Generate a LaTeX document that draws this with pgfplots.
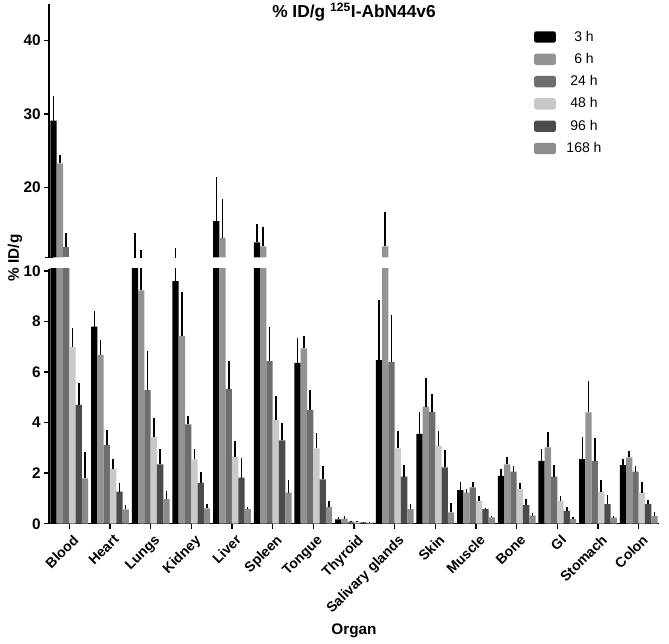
\documentclass[border=0pt]{standalone}
\usepackage{pgfplots}
\pgfplotsset{compat=1.18}
\usepackage{pgfplotstable}
\usepackage{fontspec}
\setmainfont{Liberation Sans}

\definecolor{cA}{HTML}{000000}
\definecolor{cB}{HTML}{939393}
\definecolor{cC}{HTML}{6E6E6E}
\definecolor{cD}{HTML}{C9C9C9}
\definecolor{cE}{HTML}{4B4B4B}
\definecolor{cF}{HTML}{8C8C8C}

% 3 h
\pgfplotstableread{
x y e
0 29.1 3.3
1 7.80 0.63
2 10.3 3.4
3 9.60 2.1
4 15.4 6.0
5 12.5 2.5
6 6.37 1.0
7 0.17 0.10
8 6.48 2.37
9 3.56 0.87
10 1.33 0.31
11 1.89 0.27
12 2.49 0.45
13 2.56 0.88
14 2.32 0.23
}\tA
% 6 h
\pgfplotstableread{
x y e
0 23.27 1.1
1 6.68 0.59
2 9.24 2.2
3 7.43 1.75
4 13.1 5.3
5 11.95 2.6
6 6.94 0.5
7 0.20 0.10
8 11.95 4.7
9 4.63 1.12
10 1.23 0.13
11 2.35 0.30
12 3.02 0.62
13 4.41 1.24
14 2.63 0.25
}\tB
% 24 h
\pgfplotstableread{
x y e
0 11.81 1.9
1 3.11 0.60
2 5.29 1.54
3 3.93 0.34
4 5.34 1.10
5 6.44 1.33
6 4.50 0.79
7 0.08 0.04
8 6.41 1.84
9 4.43 0.69
10 1.44 0.22
11 2.06 0.22
12 1.86 0.46
13 2.48 0.90
14 2.06 0.22
}\tC
% 48 h
\pgfplotstableread{
x y e
0 7.00 0.76
1 2.16 0.39
2 3.44 0.73
3 2.55 0.39
4 2.65 0.62
5 4.10 0.97
6 2.98 0.60
7 0.06 0.03
8 2.98 0.69
9 3.09 0.58
10 0.91 0.19
11 1.37 0.25
12 0.90 0.20
13 1.27 0.46
14 1.23 0.43
}\tD
% 96 h
\pgfplotstableread{
x y e
0 4.70 0.88
1 1.27 0.35
2 2.35 0.59
3 1.62 0.44
4 1.82 0.77
5 3.30 0.70
6 1.76 0.52
7 0.05 0.02
8 1.86 0.46
9 2.23 0.69
10 0.58 0.03
11 0.74 0.23
12 0.51 0.14
13 0.78 0.36
14 0.78 0.16
}\tE
% 168 h
\pgfplotstableread{
x y e
0 1.80 1.05
1 0.57 0.17
2 0.97 0.32
3 0.61 0.17
4 0.58 0.09
5 1.23 0.50
6 0.67 0.24
7 0.03 0.02
8 0.58 0.19
9 0.45 0.36
10 0.25 0.07
11 0.32 0.12
12 0.19 0.06
13 0.24 0.06
14 0.30 0.17
}\tF

\pgfplotsset{
  errs/.style={error bars/.cd, y dir=plus, y explicit, error mark=none,
    error bar style={line width=1.1pt, black}},
  barser/.style={ybar, bar width=0.155, bar shift=0pt, draw=none, fill=#1, errs},
  barsonly/.style={ybar, bar width=0.155, bar shift=0pt, draw=none, fill=#1,
    forget plot, restrict y to domain=10.45:1000},
  errsonly/.style={draw=none, mark=none, forget plot, errs},
  common/.style={
    scale only axis, width=457.5pt, xmin=-0.5, xmax=14.5,
    axis line style={-, line width=1.1pt},
    every tick/.style={black, line width=1.1pt},
    tick align=outside, major tick length=3.75pt,
    /pgf/number format/assume math mode=true,
    yticklabel style={font=\fontsize{11.5}{13}\selectfont\bfseries, xshift=1pt},
    clip=true,
  },
}

\begin{document}
\begin{tikzpicture}
\path[use as bounding box] (-36.75pt,-89.5pt) rectangle (465pt,392.8pt);
% lower axis
\begin{axis}[common,
  at={(0pt,0pt)}, anchor=south west,
  height=191.4pt,
  ymin=0, ymax=10.1,
  axis x line*=bottom, axis y line*=left,
  ytick={0,2,4,6,8,10},
  xtick={0,...,14},
  xticklabels={Blood,Heart,Lungs,Kidney,Liver,Spleen,Tongue,Thyroid,Salivary glands,Skin,Muscle,Bone,GI,Stomach,Colon},
  xticklabel style={rotate=45, anchor=north east, font=\fontsize{10.5}{12}\selectfont\bfseries, inner sep=1pt, yshift=-3pt},
  xlabel={Organ},
  xlabel style={at={(rel axis cs:0.5,0)}, anchor=center, yshift=-80pt, font=\fontsize{11.5}{13}\selectfont\bfseries},
]
\addplot[barser=cA] table[x expr=\thisrow{x}-0.3875,y=y,y error=e]{\tA};
\addplot[barser=cB] table[x expr=\thisrow{x}-0.2325,y=y,y error=e]{\tB};
\addplot[barser=cC] table[x expr=\thisrow{x}-0.0775,y=y,y error=e]{\tC};
\addplot[barser=cD] table[x expr=\thisrow{x}+0.0775,y=y,y error=e]{\tD};
\addplot[barser=cE] table[x expr=\thisrow{x}+0.2325,y=y,y error=e]{\tE};
\addplot[barser=cF] table[x expr=\thisrow{x}+0.3875,y=y,y error=e]{\tF};
\end{axis}
% upper axis
\begin{axis}[common,
  at={(0pt,199.8pt)}, anchor=south west,
  height=190pt,
  ymin=10.45, ymax=45,
  axis x line=none, axis y line*=left,
  ytick={20,30,40},
  extra y ticks={10.45}, extra y tick labels={},
  extra y tick style={tick align=center, major tick length=6pt},
  title={\% ID/g \textsuperscript{125}I-AbN44v6},
  title style={at={(rel axis cs:0.5,0.937)}, anchor=center, font=\fontsize{13}{15}\selectfont\bfseries},
  legend style={at={(rel axis cs:0.795,0.905)}, anchor=north west, draw=none, fill=none,
    font=\fontsize{10.5}{12}\selectfont, row sep=3.6pt, inner sep=0pt,
    /tikz/every odd column/.append style={column sep=6pt}},
  legend cell align=center,
  legend image code/.code={\fill[#1, draw=none, rounded corners=1.2pt] (0pt,-4.25pt) rectangle (16.2pt,4.25pt);},
]
\addlegendimage{fill=cA}
\addlegendimage{fill=cB}
\addlegendimage{fill=cC}
\addlegendimage{fill=cD}
\addlegendimage{fill=cE}
\addlegendimage{fill=cF}
\legend{3 h, 6 h, 24 h, 48 h, 96 h, 168 h}
\addplot[barsonly=cA] table[x expr=\thisrow{x}-0.3875,y=y]{\tA};
\addplot[barsonly=cB] table[x expr=\thisrow{x}-0.2325,y=y]{\tB};
\addplot[barsonly=cC] table[x expr=\thisrow{x}-0.0775,y=y]{\tC};
\addplot[errsonly] table[x expr=\thisrow{x}-0.3875,y=y,y error=e]{\tA};
\addplot[errsonly] table[x expr=\thisrow{x}-0.2325,y=y,y error=e]{\tB};
\addplot[errsonly] table[x expr=\thisrow{x}-0.0775,y=y,y error=e]{\tC};
\end{axis}
\node[rotate=90, font=\fontsize{11.5}{13}\selectfont\bfseries] at (-25.5pt,199.3pt) {\% ID/g};
\end{tikzpicture}
\end{document}
